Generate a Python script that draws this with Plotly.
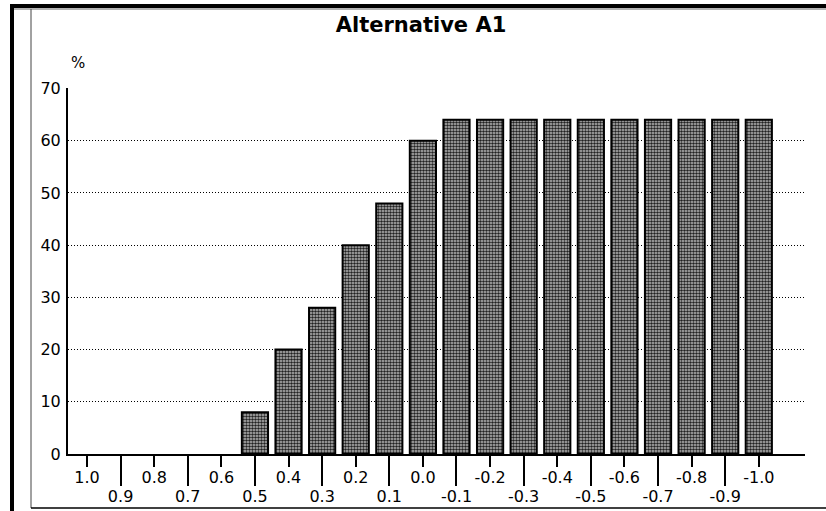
import plotly.graph_objects as go

# ---- data ----
categories = ["1.0", "0.9", "0.8", "0.7", "0.6", "0.5", "0.4", "0.3", "0.2", "0.1", "0.0",
              "-0.1", "-0.2", "-0.3", "-0.4", "-0.5", "-0.6", "-0.7", "-0.8", "-0.9", "-1.0"]
values = [0, 0, 0, 0, 0, 8, 20, 28, 40, 48, 60,
          64, 64, 64, 64, 64, 64, 64, 64, 64, 64]
y_ticks = [0, 10, 20, 30, 40, 50, 60, 70]
title_text = "Alternative A1"
unit_text = "%"

W, H = 826, 511
L, R, T, B = 68, 805, 88, 454  # plot area in pixels
pw, ph = R - L, B - T

def px(x):
    return (x - L) / pw

def py(y):
    return (B - y) / ph

idx = list(range(len(categories)))
even = [i for i in idx if i % 2 == 0]
odd = [i for i in idx if i % 2 == 1]

fig = go.Figure()
fig.add_trace(go.Bar(
    x=idx, y=values, width=0.78,
    marker=dict(
        color="#8a8a8a",
        line=dict(color="black", width=[2 if v > 0 else 0 for v in values]),
        pattern=dict(shape=".", size=3, solidity=0.55, fgcolor="#222222", bgcolor="#bdbdbd", fillmode="replace"),
    ),
    hoverinfo="skip", showlegend=False,
))
fig.add_trace(go.Scatter(x=[0], y=[0], xaxis="x2", mode="markers",
                         marker=dict(opacity=0), showlegend=False, hoverinfo="skip"))

x0 = -19 / 33.59
x1 = x0 + pw / 33.59
font = "DejaVu Sans"

frame = [
    # thick black top band
    dict(type="rect", xref="paper", yref="paper", x0=px(10), x1=px(826), y0=py(4), y1=py(8),
         fillcolor="black", line=dict(width=0), layer="above"),
    # thin grey line under it
    dict(type="line", xref="paper", yref="paper", x0=px(14), x1=px(826), y0=py(9), y1=py(9),
         line=dict(color="#999999", width=1.5), layer="above"),
    # thick black left bar
    dict(type="line", xref="paper", yref="paper", x0=px(12), x1=px(12), y0=py(4), y1=py(511),
         line=dict(color="black", width=4), layer="above"),
    # inner frame left edge
    dict(type="line", xref="paper", yref="paper", x0=px(31), x1=px(31), y0=py(9), y1=py(508),
         line=dict(color="#444444", width=1), layer="above"),
    # inner frame bottom edge
    dict(type="line", xref="paper", yref="paper", x0=px(31), x1=px(826), y0=py(508), y1=py(508),
         line=dict(color="black", width=1.5), layer="above"),
]

fig.update_layout(
    width=W, height=H,
    margin=dict(l=L, r=W - R, t=T, b=H - B, autoexpand=False),
    paper_bgcolor="white", plot_bgcolor="white",
    xaxis=dict(range=[x0, x1], tickvals=even, ticktext=[categories[i] for i in even],
               ticks="outside", ticklen=11, tickwidth=2, tickcolor="black",
               showline=True, linecolor="black", linewidth=2, showgrid=False, zeroline=False,
               tickfont=dict(family=font, size=16, color="black"), ticklabelstandoff=-3,
               automargin=False),
    xaxis2=dict(range=[x0, x1], overlaying="x", anchor="y", side="bottom",
                tickvals=odd, ticktext=[categories[i] for i in odd],
                ticks="outside", ticklen=31, tickwidth=2, tickcolor="black",
                showline=False, showgrid=False, zeroline=False,
                tickfont=dict(family=font, size=16, color="black"), ticklabelstandoff=-3,
                automargin=False),
    yaxis=dict(range=[0, 70.1], tickvals=y_ticks, ticks="", showline=True, linecolor="black",
               linewidth=2, showgrid=True, gridcolor="black", gridwidth=1, griddash="1px,2px",
               zeroline=False, tickfont=dict(family=font, size=16, color="black"),
               ticklabelstandoff=2, automargin=False),
    title=dict(text="<b>" + title_text + "</b>", x=px(421), xref="paper", xanchor="center",
               y=1 - 25 / H, yref="container", yanchor="middle",
               font=dict(family=font, size=21, color="black")),
    annotations=[dict(text=unit_text, x=px(78), y=py(63), xref="paper", yref="paper",
                      showarrow=False, xanchor="center", yanchor="middle",
                      font=dict(family=font, size=15, color="black"))],
    shapes=frame,
)

fig.write_html("out.html", config={"displayModeBar": False, "staticPlot": True},
               post_script="document.body.style.margin='0';document.body.style.overflow='hidden';")
